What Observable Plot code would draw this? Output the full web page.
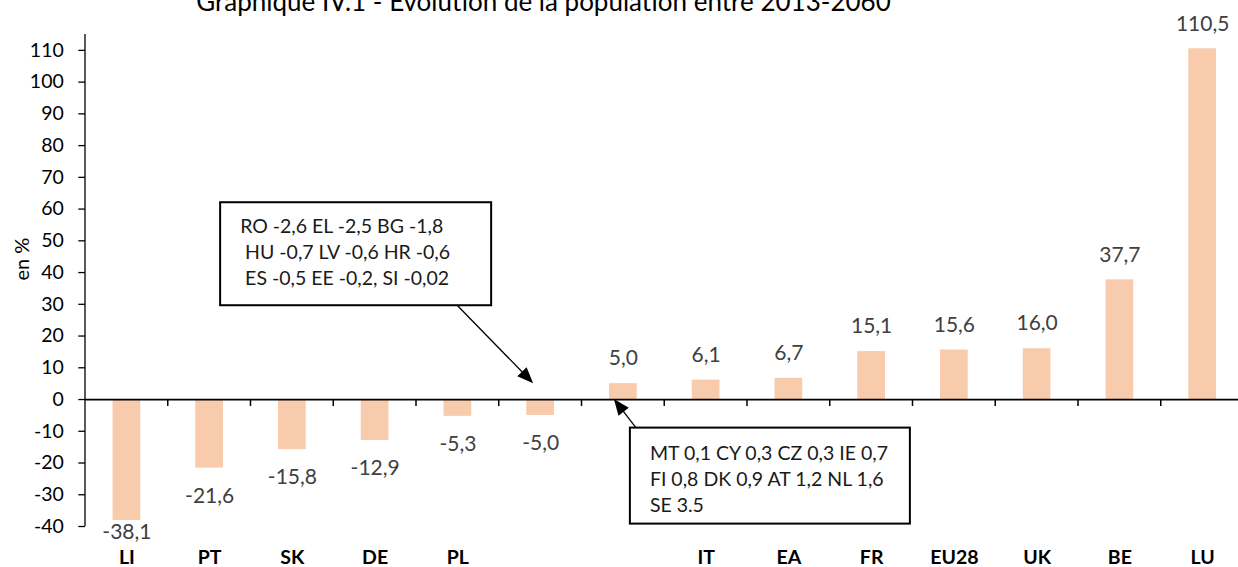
<!DOCTYPE html>
<html><head><meta charset="utf-8">
<script src="https://cdn.jsdelivr.net/npm/d3@7"></script>
<script src="https://cdn.jsdelivr.net/npm/@observablehq/plot@0.6"></script>
<style>
html,body{margin:0;padding:0;background:#fff;overflow:hidden;}
#chart{width:1238px;height:567px;}
</style></head><body><div id="chart"></div>
<script>
// ---- data ----
const title = "Graphique IV.1 - Evolution de la population entre 2013-2060";
const yLabel = "en %";
const categories = ["LI","PT","SK","DE","PL","NEG","POS","IT","EA","FR","EU28","UK","BE","LU"];
const tickLabels = ["LI","PT","SK","DE","PL","","","IT","EA","FR","EU28","UK","BE","LU"];
const values = [-38.1,-21.6,-15.8,-12.9,-5.3,-5.0,5.0,6.1,6.7,15.1,15.6,16.0,37.7,110.5];
const yTicks = [-40,-30,-20,-10,0,10,20,30,40,50,60,70,80,90,100,110];
const noteNeg = ["RO -2,6 EL -2,5 BG -1,8"," HU -0,7 LV -0,6 HR -0,6"," ES -0,5 EE -0,2, SI -0,02"];
const notePos = ["MT 0,1 CY 0,3 CZ 0,3 IE 0,7","FI 0,8 DK 0,9 AT 1,2 NL 1,6","SE 3.5"];

// ---- layout ----
const FONT = "Lato, 'Open Sans', sans-serif";
const W = 1238, H = 567;
const mT = 34, mB = 41, mL = 85, mR = -5.5;
const yDomain = [-40, 115];
const ppu = (H - mT - mB) / (yDomain[1] - yDomain[0]);

const data = categories.map((c, i) => ({cat: c, label: tickLabels[i], value: values[i]}));
const labelOf = new Map(data.map(d => [d.cat, d.label]));
const locale = d3.formatLocale({decimal: ",", thousands: " ", grouping: [3], currency: ["", ""], minus: "-"});
const fmt = locale.format(".1f");

function decorations(index, scales) {
  const x = scales.x, y = scales.y;
  const bw = typeof x.bandwidth === "function" ? x.bandwidth() : 0;
  const step = typeof x.step === "function" ? x.step() : bw;
  const left = c => x(c) - (step - bw) / 2;
  const cx = c => x(c) + bw / 2;
  const g = d3.create("svg:g");
  // y axis line
  const x0 = left(categories[0]);
  g.append("line").attr("x1", x0).attr("x2", x0)
    .attr("y1", y(yDomain[1])).attr("y2", y(yDomain[0]))
    .attr("stroke", "black").attr("stroke-width", 1.3);
  // category boundary ticks on the zero line
  for (const c of categories.slice(1)) {
    const xb = left(c);
    g.append("line").attr("x1", xb).attr("x2", xb)
      .attr("y1", y(0)).attr("y2", y(0) + 7)
      .attr("stroke", "black").attr("stroke-width", 1.5);
  }
  function arrow(S, T) {
    const dx = T[0] - S[0], dy = T[1] - S[1], len = Math.hypot(dx, dy);
    const ux = dx / len, uy = dy / len, nx = -uy, ny = ux;
    const L = 16, hw = 6.5;
    g.append("line").attr("x1", S[0]).attr("y1", S[1])
      .attr("x2", T[0] - ux * L * 0.8).attr("y2", T[1] - uy * L * 0.8)
      .attr("stroke", "black").attr("stroke-width", 1.3);
    const bx = T[0] - ux * L, by = T[1] - uy * L;
    g.append("polygon").attr("points",
      [[T[0], T[1]], [bx + nx * hw, by + ny * hw], [bx - nx * hw, by - ny * hw]].map(p => p.join(",")).join(" "))
      .attr("fill", "black");
  }
  function note(lines, box, first, lh) {
    g.append("rect").attr("x", box.x).attr("y", box.y).attr("width", box.w).attr("height", box.h)
      .attr("fill", "white").attr("stroke", "black").attr("stroke-width", 2);
    lines.forEach((t, i) => {
      g.append("text").attr("x", box.x + 20).attr("y", box.y + first + i * lh)
        .attr("font-family", FONT).attr("font-size", 19.5).attr("fill", "#1a1a1a")
        .attr("text-anchor", "start")
        .style("white-space", "pre").attr("xml:space", "preserve").text(t);
    });
  }
  const box1 = {x: cx("PT") + 11, y: y(62), w: 271, h: 103};
  note(noteNeg, box1, 30.5, 26.1);
  arrow([box1.x + 237, box1.y + box1.h], [cx("NEG") - 7, y(5)]);
  const box2 = {x: cx("POS") + 7, y: y(-9), w: 280, h: 96};
  note(notePos, box2, 32, 26);
  arrow([box2.x + 6, box2.y], [cx("POS") - 9, y(0)]);
  return g.node();
}

const chart = Plot.plot({
  width: W, height: H,
  marginTop: mT, marginBottom: mB, marginLeft: mL, marginRight: mR,
  style: {fontFamily: FONT, background: "white", color: "black", overflow: "visible"},
  x: {domain: categories, paddingInner: 0.665, paddingOuter: 0.3325, round: false, label: null},
  y: {domain: yDomain, label: null},
  marks: [
    Plot.barY(data, {x: "cat", y: "value", fill: "#F8CBAD"}),
    Plot.ruleY([0], {stroke: "black", strokeWidth: 1.8}),
    Plot.axisY({ticks: yTicks, tickSize: 6.7, tickPadding: 15, fontSize: 19.5, tickFormat: d => String(d), label: null, stroke: "black", strokeWidth: 1.3}),
    Plot.axisX({tickSize: 0, tickPadding: 24, fontSize: 19.5, fontWeight: "bold", tickFormat: c => labelOf.get(c), label: null}),
    Plot.text(data.filter(d => d.value > 0), {x: "cat", y: "value", text: d => fmt(d.value), dy: -25, fontSize: 21, fill: "#404040"}),
    Plot.text(data.filter(d => d.value < 0), {x: "cat", y: d => Math.max(d.value - 28 / ppu, -41.8), text: d => fmt(d.value), fontSize: 21, fill: "#404040"}),
    Plot.text([title], {frameAnchor: "top-left", dx: 458, dy: -(mT - 10.5), text: d => d, textAnchor: "middle", lineAnchor: "bottom", fontSize: 26, fill: "black"}),
    Plot.text([yLabel], {frameAnchor: "left", dx: -63, rotate: -90, text: d => d, fontSize: 20, fill: "black"}),
    decorations
  ]
});
document.getElementById("chart").append(chart);
</script>
</body></html>
